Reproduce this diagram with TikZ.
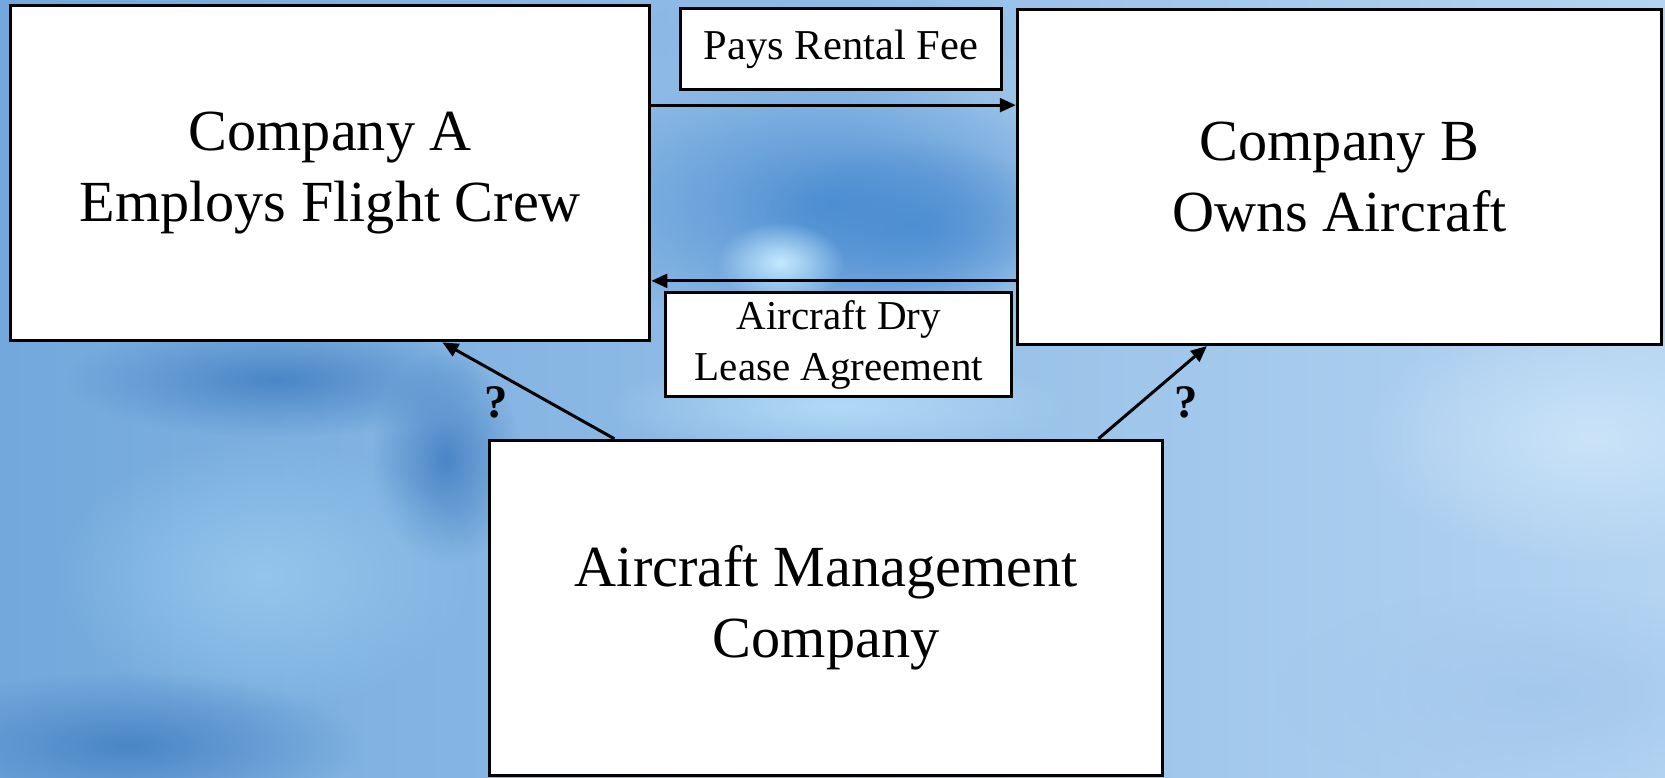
\documentclass[tikz,border=0pt]{standalone}
\usepackage{fontspec}
\setmainfont{Liberation Serif}
\usepackage{tikz}
\usetikzlibrary{arrows.meta,fadings}

\definecolor{skyleft}{HTML}{72A8DC}
\definecolor{skyright}{HTML}{B4D4F2}
\definecolor{skydark}{HTML}{4D8ED2}
\definecolor{skylight}{HTML}{C4EAFF}
\definecolor{skypale}{HTML}{B2DAF7}
\definecolor{skymid}{HTML}{84B8E5}
\definecolor{skydeep}{HTML}{4A86C6}
\definecolor{skysoft}{HTML}{94C6EC}
\definecolor{skywhite}{HTML}{CAE3F8}
\definecolor{skygrey}{HTML}{A4C8EC}

\tikzfading[name=blobfade, inner color=transparent!0, outer color=transparent!100]

\tikzset{
	bigbox/.style={draw=black, fill=white, line width=0.8pt, inner sep=0pt, minimum height=3.16cm, align=center, font=\fontsize{15.6}{19}\selectfont},
	tagbox/.style={draw=black, fill=white, line width=0.8pt, inner sep=0pt, align=center},
	arr/.style={line width=0.8pt, -{Triangle[length=1.5mm,width=1.3mm]}},
	ask/.style={inner sep=0pt, font=\fontsize{12.5}{14}\selectfont\bfseries},
	blob/.style={path fading=blobfade}
}

\begin{document}
\begin{tikzpicture}
			%%%%% START %%%%%
			\useasboundingbox (0, 0) rectangle (15.68, 7.32);
			
			\shade[left color=skyleft, right color=skyright] (0, 0) rectangle (15.68, 7.32);
			\fill[skymid, blob] (7.9, 7.0) ellipse (1.8 and 0.6);
			\fill[skydark, blob] (7.85, 5.4) ellipse (2.5 and 1.3);
			\fill[skydark, blob] (8.6, 5.2) ellipse (1.4 and 0.8);
			\fill[skylight, blob] (7.35, 4.85) ellipse (0.6 and 0.38);
			\fill[skypale, blob] (7.9, 3.5) ellipse (2.2 and 0.5);
			\fill[skydeep, blob] (2.6, 3.75) ellipse (2.0 and 0.55);
			\fill[skydeep, blob] (4.2, 3.0) ellipse (0.7 and 1.0);
			\fill[skysoft, blob] (2.5, 1.9) ellipse (2.0 and 1.3);
			\fill[skydeep, blob] (1.2, 0.3) ellipse (2.2 and 0.7);
			\fill[skywhite, blob] (15.0, 3.2) ellipse (2.2 and 1.2);
			\fill[skygrey, blob] (14.5, 0.8) ellipse (2.5 and 1.0);
			
			\node[bigbox, minimum width=6.02cm] (compA) at (3.11, 5.69) {Company A\\Employs Flight Crew};
			\node[bigbox, minimum width=6.07cm] (compB) at (12.615, 5.655) {Company B\\Owns Aircraft};
			\node[bigbox, minimum width=6.34cm] (mgmt) at (7.78, 1.594) {Aircraft Management\\Company};
			
			\node[tagbox, minimum width=3.02cm, minimum height=0.756cm, font=\fontsize{11.4}{13.7}\selectfont] (fee) at (7.92, 6.858) {Pays Rental Fee};
			\node[tagbox, minimum width=3.26cm, minimum height=0.981cm, font=\fontsize{11}{13.7}\selectfont] (lease) at (7.90, 4.075) {Aircraft Dry\\Lease Agreement};
			
			\draw[arr] ([yshift=6.4mm]compA.east) -- ([yshift=6.4mm]compA.east -| compB.west);
			\draw[arr] ([yshift=-9.8mm]compB.west) -- ([yshift=-9.8mm]compB.west -| compA.east);
			
			\draw[arr] ([xshift=11.9mm]mgmt.north west) -- ([xshift=40.8mm]compA.south west);
			\draw[arr] ([xshift=-6.2mm]mgmt.north east) -- ([xshift=18mm]compB.south west);
			
			\node[ask] (askA) at (4.67, 3.53) {?};
			\node[ask] (askB) at (11.17, 3.53) {?};
			%%%%% END %%%%%
\end{tikzpicture}
\end{document}
